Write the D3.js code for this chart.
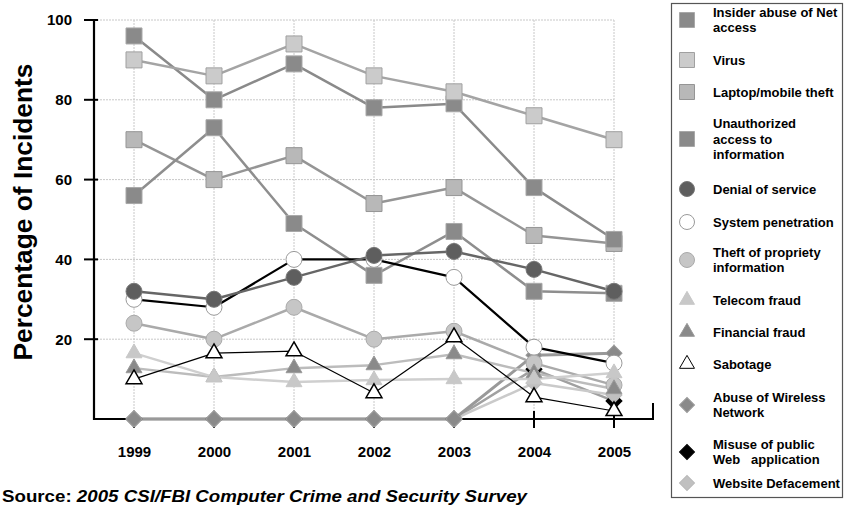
<!DOCTYPE html>
<html><head><meta charset="utf-8">
<script src="https://cdn.jsdelivr.net/npm/d3@7/dist/d3.min.js"></script>
<style>body{margin:0;background:#fff}svg{display:block}text{font-family:"Liberation Sans",Arial,sans-serif;font-weight:bold}</style>
</head><body><svg id="c" width="845" height="510"></svg>
<script>
const years = ["1999","2000","2001","2002","2003","2004","2005"];
const yTicks = [20,40,60,80,100];
const seriesNames = ["Insider abuse of Net access","Virus","Laptop/mobile theft","Unauthorized access to information","Denial of service","System penetration","Theft of propriety information","Telecom fraud","Financial fraud","Sabotage","Abuse of Wireless Network","Misuse of public Web application","Website Defacement"];
const legendLines = [["Insider abuse of Net","access"],["Virus"],["Laptop/mobile theft"],["Unauthorized","access to","information"],["Denial of service"],["System penetration"],["Theft of propriety","information"],["Telecom fraud"],["Financial fraud"],["Sabotage"],["Abuse of Wireless","Network"],["Misuse of public","Web\u00a0\u00a0 application"],["Website Defacement"]];
const insider      = [96, 80, 89, 78, 79, 58, 45];
const virus        = [90, 86, 94, 86, 82, 76, 70];
const laptop       = [70, 60, 66, 54, 58, 46, 44];
const unauthorized = [56, 73, 49, 36, 47, 32, 31.5];
const dos          = [32, 30, 35.5, 41, 42, 37.5, 32];
const syspen       = [30, 28, 40, 40, 35.5, 18, 14];
const theft        = [24, 20, 28, 20, 22, 14, 8.5];
const telecom      = [16.5, 10.5, 9.25, 9.75, 10, 10, 11.5];
const financial    = [12.75, 10.5, 12.75, 13.5, 16.25, 11.5, 7.5];
const sabotage     = [10, 16.5, 17, 6.5, 20.5, 5.5, 2];
const wireless     = [0, 0, 0, 0, 0, 16, 16.5];
const misuse       = [0, 0, 0, 0, 0, 12.5, 4.5];
const deface       = [0, 0, 0, 0, 0, 9, 6];
const values = [insider,virus,laptop,unauthorized,dos,syspen,theft,telecom,financial,sabotage,wireless,misuse,deface];

const styles = [
 {sym:"square",  fill:"#8a8a8a", stroke:"#a8a8a8", line:"#8a8a8a", lw:2.5},
 {sym:"square",  fill:"#cbcbcb", stroke:"#a0a0a0", line:"#a4a4a4", lw:2.5},
 {sym:"square",  fill:"#b8b8b8", stroke:"#959595", line:"#959595", lw:2.5},
 {sym:"square",  fill:"#8a8a8a", stroke:"#a8a8a8", line:"#8e8e8e", lw:2.5},
 {sym:"circle",  fill:"#5e5e5e", stroke:"#777",    line:"#666666", lw:2.5},
 {sym:"circle",  fill:"#ffffff", stroke:"#9a9a9a", line:"#000000", lw:2.2},
 {sym:"circle",  fill:"#c6c6c6", stroke:"#aaaaaa", line:"#aaaaaa", lw:2.5},
 {sym:"triangle",fill:"#c8c8c8", stroke:"#c8c8c8", line:"#cfcfcf", lw:2.5},
 {sym:"triangle",fill:"#8a8a8a", stroke:"#9a9a9a", line:"#bcbcbc", lw:2.5},
 {sym:"triangle",fill:"#ffffff", stroke:"#000000", line:"#000000", lw:1.2},
 {sym:"diamond", fill:"#8a8a8a", stroke:"#9a9a9a", line:"#999999", lw:3},
 {sym:"diamond", fill:"#000000", stroke:"#000000", line:"#a0a0a0", lw:2.5},
 {sym:"diamond", fill:"#c0c0c0", stroke:"#b8b8b8", line:"#cacaca", lw:2.5}
];
const svg = d3.select("#c");
const x = d3.scalePoint().domain(years).range([94,654]).padding(0.5);
const y = d3.scaleLinear().domain([0,100]).range([419,20]);

function symPath(sym, s){
  if(sym==="square") return d3.symbol(d3.symbolSquare, s*s)();
  if(sym==="circle") return d3.symbol(d3.symbolCircle, Math.PI*s*s/4)();
  if(sym==="triangle") return d3.symbol(d3.symbolTriangle, s*s*0.43)();
  return d3.symbol(d3.symbolSquare, s*s/2)();
}

// grid
const g = svg.append("g");
g.selectAll("line.hg").data(yTicks).join("line")
 .attr("x1",94).attr("x2",x("2005")).attr("y1",d=>y(d)).attr("y2",d=>y(d))
 .attr("stroke","#c8c8c8").attr("stroke-width",1).attr("stroke-dasharray","2,1");
g.selectAll("line.vg").data(years).join("line")
 .attr("x1",d=>x(d)).attr("x2",d=>x(d)).attr("y1",y(100)).attr("y2",y(0))
 .attr("stroke","#c8c8c8").attr("stroke-width",1).attr("stroke-dasharray","2,1");

// axes
const yAxis = svg.append("g").attr("transform","translate(94,0)")
 .call(d3.axisLeft(y).tickValues(yTicks).tickSize(0).tickPadding(22));
yAxis.select(".domain").remove();
yAxis.selectAll("text").attr("font-size",15).attr("fill","#000").attr("font-family","Liberation Sans, Arial").attr("font-weight","bold");
svg.append("line").attr("x1",94).attr("x2",94).attr("y1",y(100)-1).attr("y2",y(0)+1).attr("stroke","#000").attr("stroke-width",2.2);
svg.selectAll("line.yt").data(yTicks).join("line").attr("x1",84).attr("x2",98).attr("y1",d=>y(d)).attr("y2",d=>y(d)).attr("stroke","#000").attr("stroke-width",2);

const xAxis = svg.append("g").attr("transform","translate(0,"+y(0)+")")
 .call(d3.axisBottom(x).tickSize(0).tickPadding(27));
xAxis.select(".domain").remove();
xAxis.selectAll("text").attr("font-size",15).attr("fill","#000").attr("font-family","Liberation Sans, Arial").attr("font-weight","bold");
svg.append("line").attr("x1",93).attr("x2",654).attr("y1",y(0)).attr("y2",y(0)).attr("stroke","#000").attr("stroke-width",2.2);
svg.selectAll("line.xt").data(years).join("line").attr("x1",d=>x(d)).attr("x2",d=>x(d)).attr("y1",y(0)-8).attr("y2",y(0)+9).attr("stroke","#000").attr("stroke-width",2);
svg.append("line").attr("x1",653).attr("x2",653).attr("y1",y(0)-16).attr("y2",y(0)).attr("stroke","#000").attr("stroke-width",2);

// draw order (bottom to top)
const order = [2,0,1,3,11,12,10,5,4,6,8,7,9];
const lineGen = d3.line().x((d,i)=>x(years[i])).y(d=>y(d));
const lg = svg.append("g");
order.forEach(k=>{
  lg.append("path").attr("d",lineGen(values[k])).attr("fill","none")
    .attr("stroke",styles[k].line).attr("stroke-width",styles[k].lw).attr("stroke-linejoin","round");
});
const mg = svg.append("g");
order.forEach(k=>{
  const st = styles[k];
  mg.selectAll(null).data(values[k]).join("path")
    .attr("d", symPath(st.sym, 16))
    .attr("transform",(d,i)=>"translate("+x(years[i])+","+y(d)+")"+(st.sym==="diamond"?" rotate(45)":""))
    .attr("fill",st.fill).attr("stroke",st.stroke).attr("stroke-width",k===9?1.5:1);
});

// y title
svg.append("text").attr("transform","translate(32,212) rotate(-90)").attr("text-anchor","middle")
 .attr("font-size",25).attr("textLength",297).attr("lengthAdjust","spacingAndGlyphs").text("Percentage of Incidents");

// source
const src = svg.append("text").attr("x",2).attr("y",502).attr("font-size",17).attr("textLength",525).attr("lengthAdjust","spacingAndGlyphs");
src.append("tspan").text("Source: ");
src.append("tspan").attr("font-style","italic").text("2005 CSI/FBI Computer Crime and Security Survey");

// legend
const leg = svg.append("g");
leg.append("rect").attr("x",671.5).attr("y",3.5).attr("width",171).attr("height",494).attr("fill","#fff").attr("stroke","#555").attr("stroke-width",1.2);
const legY = [20,60,92,139,189,222,260,300,332,364,405,452,483];
const lh = 15.3;
legendLines.forEach((lines,k)=>{
  const st = styles[k];
  leg.append("path").attr("d",symPath(st.sym,15))
   .attr("transform","translate(687,"+legY[k]+")"+(st.sym==="diamond"?" rotate(45)":""))
   .attr("fill",st.fill).attr("stroke",st.stroke).attr("stroke-width",1);
  const t = leg.append("text").attr("x",713).attr("font-size",13);
  const y0 = legY[k] - (lines.length-1)*lh/2;
  lines.forEach((ln,j)=>{
    t.append("tspan").attr("x",713).attr("y",y0+j*lh).attr("dy","0.35em").text(ln);
  });
});
</script></body></html>
